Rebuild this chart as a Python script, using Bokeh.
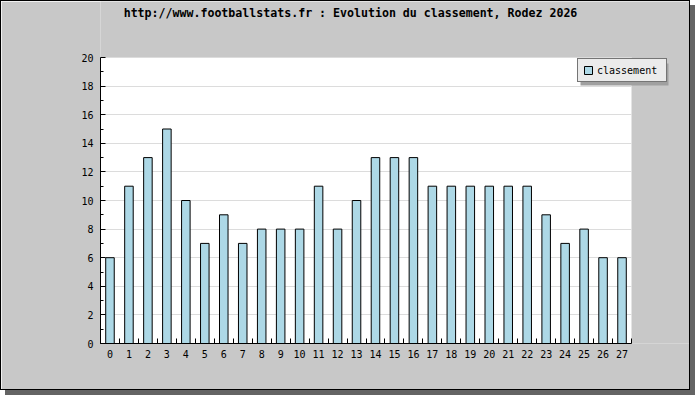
from bokeh.plotting import figure
from bokeh.models import Range1d, FixedTicker, Legend, LegendItem, Label, BoxAnnotation
from bokeh.embed import file_html
from bokeh.resources import INLINE

# ---- data ----
rounds = list(range(0, 28))
positions = [6, 11, 13, 15, 10, 7, 9, 7, 8, 8, 8, 11, 8, 10, 13, 13, 13,
             11, 11, 11, 11, 11, 11, 9, 7, 8, 6, 6]
y_ticks = list(range(0, 21, 2))
y_minor = list(range(1, 20, 2))
x_minor = [r - 0.5 for r in rounds] + [rounds[-1] + 0.5]
title_text = "http://www.footballstats.fr : Evolution du classement, Rodez 2026"
series_name = "classement"

MONO = "DejaVu Sans Mono"

# ---- layout (pixels) ----
W, H = 690, 390
PLOT_L, PLOT_R, PLOT_T, PLOT_B = 100, 631, 57, 343   # white plot area in page px
x0, x1 = rounds[0] - 0.5, rounds[-1] + 0.5
y0, y1 = 0, 20
px_per_x = (PLOT_R - PLOT_L) / (x1 - x0)
px_per_y = (PLOT_B - PLOT_T) / (y1 - y0)
frame_right = 1 + W
frame_top = 1
xr_end = x0 + (frame_right - PLOT_L) / px_per_x
yr_end = y0 + (PLOT_B - frame_top) / px_per_y


def px_to_x(px):
    return x0 + (px - PLOT_L) / px_per_x


def px_to_y(py):
    return y0 + (PLOT_B - py) / px_per_y


p = figure(width=W, height=H, output_backend="svg", toolbar_location=None,
           x_range=Range1d(x0, xr_end), y_range=Range1d(y0, yr_end),
           min_border_left=PLOT_L - 1, min_border_right=0,
           min_border_top=0, min_border_bottom=1 + H - PLOT_B)
p.styles = {"border": "1px solid black", "box-shadow": "5px 5px 0px #646464"}

p.background_fill_color = "#c8c8c8"
p.border_fill_color = "#c8c8c8"
p.outline_line_color = None

# white plotting area
p.add_layout(BoxAnnotation(left=x0, right=x1, bottom=y0, top=y1,
                           fill_color="white", fill_alpha=1, line_color=None,
                           level="image"))

bars = p.vbar(x=rounds, top=positions, width=0.45, fill_color="#add8e6",
              line_color="black", line_width=1)

# axes
xa = p.xaxis[0]
xa.ticker = FixedTicker(ticks=rounds, minor_ticks=x_minor)
xa.bounds = (x0, x1)
xa.major_tick_in = 0
xa.major_tick_out = 0
xa.minor_tick_in = 5
xa.minor_tick_out = 0
xa.major_label_standoff = 6
ya = p.yaxis[0]
ya.ticker = FixedTicker(ticks=y_ticks, minor_ticks=y_minor)
ya.bounds = (y0, y1)
ya.major_tick_in = 5
ya.major_tick_out = 0
ya.minor_tick_in = 3
ya.minor_tick_out = 0
ya.major_label_standoff = 7
for ax in (xa, ya):
    ax.axis_line_color = "black"
    ax.major_tick_line_color = "black"
    ax.minor_tick_line_color = "black"
    ax.major_label_text_font = MONO
    ax.major_label_text_font_size = "10px"
    ax.major_label_text_color = "black"

p.xgrid.visible = False
p.ygrid.ticker = FixedTicker(ticks=y_ticks)
p.ygrid.bounds = (y0, y1)
p.ygrid.cross_bounds = (x0, x1)
p.ygrid.grid_line_color = "#dcdcdc"

# title
p.add_layout(Label(x=px_to_x(350), y=px_to_y(12), text=title_text,
                   text_align="center", text_baseline="middle",
                   text_font=MONO, text_font_size="11.6px",
                   text_font_style="bold", text_color="black"))

# legend (box 577..665 x 60..82 px) with a 3px drop shadow
LEG_L, LEG_T, LEG_R, LEG_B = 577, 60, 665, 82
p.add_layout(BoxAnnotation(left=px_to_x(LEG_L + 3), right=px_to_x(LEG_R + 3),
                           top=px_to_y(LEG_T + 3), bottom=px_to_y(LEG_B + 3),
                           fill_color="#a0a0a0", fill_alpha=1, line_color=None))
legend = Legend(items=[LegendItem(label=series_name, renderers=[bars])],
                location=(LEG_L - PLOT_L, PLOT_B - LEG_B),
                padding=5, margin=0, spacing=0, glyph_width=10, glyph_height=10,
                label_height=12, label_width=64, label_standoff=4,
                label_text_font=MONO, label_text_font_size="10px",
                background_fill_color="#ebebeb", background_fill_alpha=1,
                border_line_color="black", border_line_width=1,
                label_text_color="black")
p.add_layout(legend, "center")

open("out.html", "w").write(file_html(p, INLINE))
